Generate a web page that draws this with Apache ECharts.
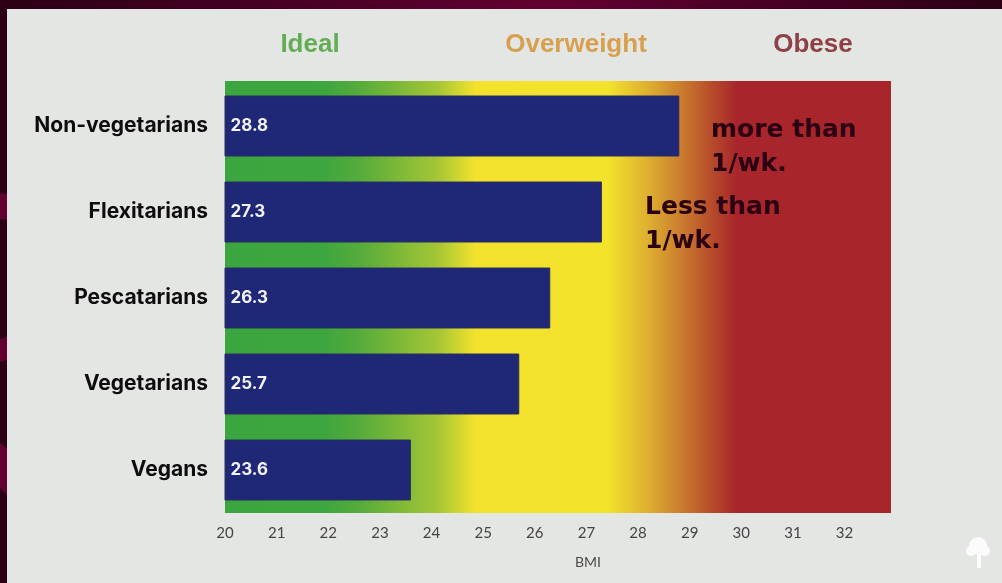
<!DOCTYPE html>
<html>
<head>
<meta charset="utf-8">
<title>BMI by diet</title>
<style>
  html, body { margin: 0; padding: 0; background: #e4e6e3; }
  #chart { width: 1002px; height: 583px; }
</style>
<script src="https://cdn.jsdelivr.net/npm/echarts@6/dist/echarts.min.js"></script>
</head>
<body>
<div id="chart"></div>
<script>
// Mean BMI per dietary group
const categories = ['Non-vegetarians', 'Flexitarians', 'Pescatarians', 'Vegetarians', 'Vegans'];
const bmiValues = [28.8, 27.3, 26.3, 25.7, 23.6];
const tickValues = [20, 21, 22, 23, 24, 25, 26, 27, 28, 29, 30, 31, 32];
const zoneNames = ['Ideal', 'Overweight', 'Obese'];
const meatNotes = ['more than\n1/wk.', 'Less than\n1/wk.'];
const axisName = 'BMI';

const labelFont = 'Inter';
const tickFont = 'Lato';
const plot = { left: 225, top: 81, width: 666, height: 432 };

const zoneGradient = new echarts.graphic.LinearGradient(0, 0, 1, 0, [
  { offset: 0, color: '#3ba53f' },
  { offset: 0.15, color: '#3ea63e' },
  { offset: 0.2, color: '#54ab3c' },
  { offset: 0.263, color: '#7fb938' },
  { offset: 0.32, color: '#a5c636' },
  { offset: 0.375, color: '#f2e22c' },
  { offset: 0.575, color: '#f3e32b' },
  { offset: 0.64, color: '#dcab30' },
  { offset: 0.69, color: '#c8772e' },
  { offset: 0.735, color: '#b5472b' },
  { offset: 0.768, color: '#a8262b' },
  { offset: 1, color: '#a8262b' }
]);

const edgeGradient = new echarts.graphic.LinearGradient(0, 0, 1, 0, [
  { offset: 0, color: '#2b0015' },
  { offset: 0.55, color: '#620030' },
  { offset: 1, color: '#2b0015' }
]);

function zoneTitle(text, x, fill) {
  return {
    type: 'text', z: 5,
    style: { text, x, y: 45, align: 'center', verticalAlign: 'middle', fill,
             font: 'bold 26px "Liberation Sans"' }
  };
}

function note(text, x, y) {
  return {
    type: 'text', z: 5,
    style: { text, x, y, fill: '#2a0012', lineHeight: 34,
             font: 'bold 25px "DejaVu Sans"' }
  };
}

const chart = echarts.init(document.getElementById('chart'), null, { renderer: 'canvas' });
chart.setOption({
  animation: false,
  backgroundColor: '#e4e6e3',
  grid: { left: plot.left, top: 83, width: plot.width, height: 430, containLabel: false },
  xAxis: {
    type: 'value',
    min: 20,
    max: 32.9,
    name: axisName,
    nameLocation: 'middle',
    nameGap: 42,
    nameTextStyle: { color: '#4a4a4a', fontSize: 14, fontFamily: tickFont, padding: [0, 0, 0, 60] },
    axisLine: { show: false },
    axisTick: { show: false },
    splitLine: { show: false },
    axisLabel: { customValues: tickValues, color: '#444444', fontSize: 15, fontFamily: tickFont, margin: 13 }
  },
  yAxis: {
    type: 'category',
    data: categories,
    inverse: true,
    axisLine: { show: false },
    axisTick: { show: false },
    splitLine: { show: false },
    axisLabel: { color: '#0d0d0d', fontSize: 21, fontWeight: 'bold', fontFamily: labelFont, margin: 17 }
  },
  series: [{
    type: 'bar',
    data: bmiValues,
    barWidth: 61,
    z: 3,
    itemStyle: { color: '#1f2777', borderColor: '#2c2e60', borderWidth: 1 },
    label: {
      show: true,
      position: 'insideLeft',
      distance: 6,
      formatter: p => p.value.toFixed(1),
      color: '#f2f3fa',
      fontSize: 17,
      fontWeight: 'bold',
      fontFamily: labelFont
    }
  }],
  graphic: [
    // slide frame along the top and left edges
    { type: 'rect', z: 0, shape: { x: 0, y: 0, width: 1002, height: 9 }, style: { fill: edgeGradient } },
    { type: 'rect', z: 0, shape: { x: 0, y: 0, width: 7, height: 583 }, style: { fill: '#2b0015' } },
    { type: 'polygon', z: 1, shape: { points: [[0, 193], [7, 194], [7, 220], [0, 219]] }, style: { fill: '#620030' } },
    { type: 'polygon', z: 1, shape: { points: [[0, 339], [7, 337], [7, 360], [0, 362]] }, style: { fill: '#620030' } },
    { type: 'polygon', z: 1, shape: { points: [[0, 443], [7, 448], [7, 495], [0, 488]] }, style: { fill: '#620030' } },
    // BMI zone band behind the bars
    { type: 'rect', z: 0, shape: { x: plot.left, y: plot.top, width: plot.width, height: plot.height },
      style: { fill: zoneGradient } },
    zoneTitle(zoneNames[0], 310, '#63ae54'),
    zoneTitle(zoneNames[1], 576, '#d7a050'),
    zoneTitle(zoneNames[2], 813, '#8f4047'),
    note(meatNotes[0], 711, 113),
    note(meatNotes[1], 645, 190),
    // tree mark in the corner
    { type: 'rect', z: 5, shape: { x: 977, y: 552, width: 4, height: 16 }, style: { fill: '#fbfbfb' } },
    { type: 'circle', z: 5, shape: { cx: 978, cy: 546, r: 9 }, style: { fill: '#fbfbfb' } },
    { type: 'circle', z: 5, shape: { cx: 971, cy: 551, r: 5 }, style: { fill: '#fbfbfb' } },
    { type: 'circle', z: 5, shape: { cx: 985, cy: 551, r: 5 }, style: { fill: '#fbfbfb' } }
  ]
});
</script>
</body>
</html>
